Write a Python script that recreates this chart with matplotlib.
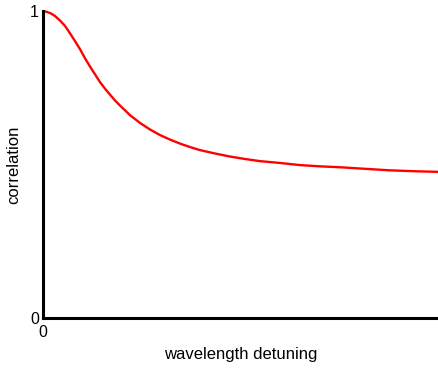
import matplotlib
matplotlib.use("Agg")
import matplotlib.pyplot as plt

detuning = [0.0, 0.10, 0.20, 0.30, 0.43, 0.56, 0.68, 0.81, 0.94, 1.06, 1.19, 1.32,
            1.44, 1.57, 1.70, 1.82, 1.95, 2.20, 2.46, 2.71, 2.96, 3.22, 3.47, 3.72,
            3.97, 4.35, 4.73, 5.11, 5.49, 6.00, 6.51, 7.01, 7.52, 8.15, 8.78, 9.42, 10.0]
correlation = [1.0, 0.997, 0.992, 0.984, 0.969, 0.951, 0.928, 0.902, 0.875, 0.847,
               0.819, 0.793, 0.769, 0.747, 0.727, 0.709, 0.692, 0.661, 0.635, 0.614,
               0.596, 0.581, 0.568, 0.557, 0.547, 0.536, 0.526, 0.518, 0.511, 0.505,
               0.498, 0.494, 0.491, 0.486, 0.481, 0.478, 0.476]
xticks = [0]
xtick_labels = ["0"]
yticks = [0, 1]
ytick_labels = ["0", "1"]

plt.rcParams['font.family'] = ['Liberation Sans', 'DejaVu Sans']

fig = plt.figure(figsize=(4.38, 3.68), dpi=100)
ax = fig.add_axes([43/438, 1-318/368, 1-43/438, (318-11)/368])
ax.plot(detuning, correlation, color='#ff0000', lw=1.7, clip_on=False,
        solid_capstyle='butt', solid_joinstyle='round')
ax.set_xlim(0, 10)
ax.set_ylim(0, 1)
for s in ['top', 'right']:
    ax.spines[s].set_visible(False)
for s in ['left', 'bottom']:
    ax.spines[s].set_linewidth(2.2)
    ax.spines[s].set_color('black')
ax.set_xticks(xticks)
ax.set_xticklabels(xtick_labels)
ax.set_yticks(yticks)
ax.set_yticklabels(ytick_labels)
ax.tick_params(axis='y', length=0, labelsize=11.5, pad=3)
ax.tick_params(axis='x', length=0, labelsize=11.5, pad=5)
ax.set_xlabel("wavelength detuning", fontsize=12, labelpad=5)
ax.set_ylabel("correlation", fontsize=12, labelpad=6)
fig.savefig("out.png", dpi=100)
